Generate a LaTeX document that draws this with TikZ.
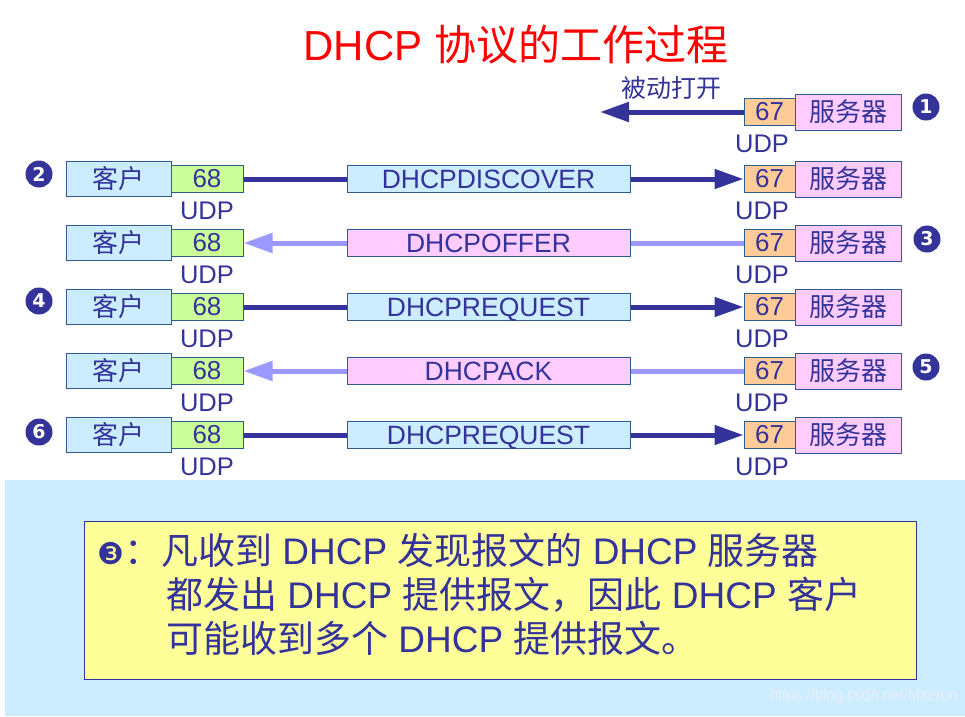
\documentclass[tikz,border=0pt]{standalone}
\usepackage{fontspec}
\setmainfont{Liberation Sans}
\newfontfamily\cjk{Noto Sans CJK SC}
\newfontfamily\dingfont{DejaVu Sans}
\usetikzlibrary{arrows.meta}
\definecolor{ink}{HTML}{333399}
\definecolor{edge}{HTML}{2F5C8F}
\definecolor{cliblue}{HTML}{CCECFF}
\definecolor{portgreen}{HTML}{CCFF99}
\definecolor{portorange}{HTML}{FFCC99}
\definecolor{srvpink}{HTML}{FFCCFF}
\definecolor{replyline}{HTML}{9999FF}
\definecolor{notefill}{HTML}{FFFF99}
\definecolor{markgray}{HTML}{E4EEF6}
\begin{document}
\begin{tikzpicture}[x=1pt,y=-1pt,
  box/.style={draw=edge, line width=1pt, inner sep=0pt, text=ink},
  client/.style={box, fill=cliblue, minimum width=105pt, minimum height=35pt,
    font=\cjk\fontsize{26}{30}\selectfont},
  cport/.style={box, fill=portgreen, minimum width=72pt, minimum height=27pt,
    font=\fontsize{26}{30}\selectfont},
  sport/.style={box, fill=portorange, minimum width=51pt, minimum height=27pt,
    font=\fontsize{26}{30}\selectfont},
  server/.style={box, fill=srvpink, minimum width=106pt, minimum height=36pt,
    font=\cjk\fontsize{26}{30}\selectfont},
  msgreq/.style={box, fill=cliblue, minimum width=283pt, minimum height=27pt,
    text height=19pt, text depth=0pt, font=\fontsize{26.5}{30}\selectfont},
  msgrep/.style={msgreq, fill=srvpink},
  udp/.style={inner sep=0pt, text=ink, font=\fontsize{25.5}{30}\selectfont},
  num/.style={circle, fill=ink, text=white, inner sep=0pt, minimum size=27pt,
    font=\dingfont\bfseries\fontsize{19}{20}\selectfont},
  reqline/.style={draw=ink, line width=5pt},
  repline/.style={draw=replyline, line width=5pt},
  tip/.style={-{Triangle[length=29pt,width=19pt]}},
  notetext/.style={anchor=base west, inner sep=0pt, text=ink,
    font=\fontsize{37}{42}\selectfont},
]
\useasboundingbox (0,0) rectangle (965,716);

% lower panel behind the note
\fill[cliblue] (5,480) rectangle (965,716);

% title
\node[text=red, inner sep=0pt, font=\fontsize{42}{48}\selectfont] (title) at (516,45)
  {DHCP {\cjk 协议的工作过程}};

% step 1: server opens its port passively
\node[sport] (q1) at (769.5,112) {67};
\node[server] (v1) at (848,112) {\cjk 服务器};
\node[udp] (u1) at (762,144) {UDP};
\node[num] (n1) at (926,107) {1};
\node[inner sep=0pt, text=ink, font=\cjk\fontsize{25}{30}\selectfont] (open) at (671,88) {被动打开};
\coordinate (a1) at (600,112);
\draw[reqline, tip] (q1.west) -- (a1);

% message rows
\foreach \i/\y/\msg/\kind in {2/179/DHCPDISCOVER/msgreq, 3/243/DHCPOFFER/msgrep,
    4/307/DHCPREQUEST/msgreq, 5/371/DHCPACK/msgrep, 6/435/DHCPREQUEST/msgreq}{
  \node[client] (c\i) at (118.5,\y) {客户};
  \node[cport] (p\i) at (207,\y) {68};
  \node[udp] (ul\i) at (207,\y+32) {UDP};
  \node[\kind] (m\i) at (488.5,\y) {\msg};
  \node[sport] (q\i) at (769.5,\y) {67};
  \node[server] (v\i) at (848,\y) {服务器};
  \node[udp] (ur\i) at (762,\y+32) {UDP};
}

% step numbers
\node[num] (n2) at (39,174) {2};
\node[num] (n3) at (927,239) {3};
\node[num] (n4) at (39,301) {4};
\node[num] (n5) at (926,367) {5};
\node[num] (n6) at (39,432) {6};

% client to server
\foreach \i in {2,4,6}{
  \draw[reqline] (p\i.east) -- (m\i.west);
  \draw[reqline, tip] (m\i.east) -- (q\i.west);
}
% server to client
\foreach \i in {3,5}{
  \draw[repline] (q\i.west) -- (m\i.east);
  \draw[repline, tip] (m\i.west) -- (p\i.east);
}

% note
\node[draw=ink, line width=1pt, fill=notefill, minimum width=832pt, minimum height=158pt,
  inner sep=0pt] (note) at (500.5,600.5) {};
\node[notetext] (l1) at (97,564)
  {{\dingfont\fontsize{30}{34}\selectfont ❸}{\cjk ：凡收到} DHCP {\cjk 发现报文的} DHCP {\cjk 服务器}};
\node[notetext] (l2) at (166,608)
  {{\cjk 都发出} DHCP {\cjk 提供报文，因此} DHCP {\cjk 客户}};
\node[notetext] (l3) at (166,652)
  {{\cjk 可能收到多个} DHCP {\cjk 提供报文。}};

% source mark
\node[anchor=east, inner sep=0pt, text=markgray, font=\fontsize{17}{20}\selectfont,
  xscale=0.88] (mark) at (958,696) {https://blog.csdn.net/Mxeron};
\end{tikzpicture}
\end{document}
